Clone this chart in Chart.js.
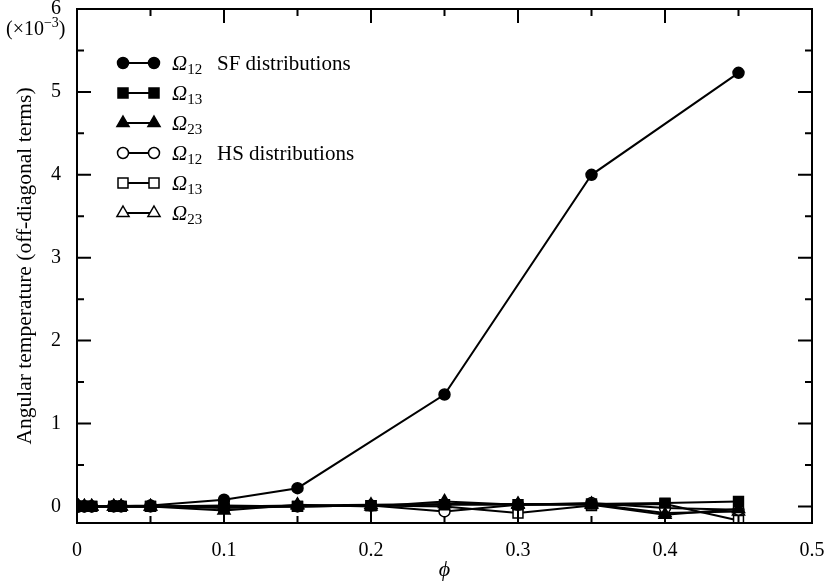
<!DOCTYPE html>
<html>
<head>
<meta charset="utf-8">
<script src="https://cdn.jsdelivr.net/npm/chart.js@4/dist/chart.umd.min.js"></script>
<style>
html, body { margin: 0; padding: 0; background: #fff; }
</style>
</head>
<body>
<canvas id="omegaChart" width="828" height="583"></canvas>
<script>
// volume fraction values (x axis)
const phi = [0.001, 0.005, 0.01, 0.025, 0.03, 0.05, 0.1, 0.15, 0.2, 0.25, 0.3, 0.35, 0.4, 0.45];

// off-diagonal angular temperature, units of 1e-3 (null = no point)
const sfOmega12 = [0, 0, 0, 0.005, 0.005, 0.01, 0.08, 0.22, null, 1.35, null, 4.0, null, 5.23];
const sfOmega13 = [0, 0, 0, 0, 0, 0, -0.02, 0.0, 0.01, 0.02, 0.02, 0.03, 0.04, 0.06];
const sfOmega23 = [0, 0, 0, 0, 0, 0, -0.05, 0.02, 0.0, 0.06, 0.02, 0.02, -0.1, -0.03];
const hsOmega12 = [0, 0, 0, 0, 0, 0, 0.0, 0.0, 0.01, -0.06, 0.02, 0.04, -0.02, -0.04];
const hsOmega13 = [0, 0, 0, 0, 0, 0, 0.01, 0.0, 0.01, 0.0, -0.08, 0.01, 0.03, -0.17];
const hsOmega23 = [0, 0, 0, 0, 0, 0, 0.0, 0.01, 0.02, 0.03, 0.03, 0.03, -0.08, -0.06];

const xTicks = [0, 0.1, 0.2, 0.3, 0.4, 0.5];
const yTicks = [0, 1, 2, 3, 4, 5, 6];

const legendSubs = ['12', '13', '23', '12', '13', '23'];
const legendNotes = ['SF distributions', '', '', 'HS distributions', '', ''];

const serif = "'Liberation Serif', 'DejaVu Serif', serif";

function toPoints(values) {
    const pts = [];
    values.forEach(function (v, i) {
        if (v !== null) pts.push({ x: phi[i], y: v });
    });
    return pts;
}

function makeSet(values, style, filled, radius) {
    return {
        data: toPoints(values),
        borderColor: '#000',
        borderWidth: 2,
        pointStyle: style,
        pointRadius: radius,
        pointBorderWidth: 1.5,
        pointBorderColor: '#000',
        pointBackgroundColor: filled ? '#000' : '#fff',
        fill: false,
        tension: 0
    };
}

function drawMarker(ctx, style, x, y, filled) {
    ctx.beginPath();
    if (style === 'circle') {
        ctx.arc(x, y, 5.5, 0, Math.PI * 2);
    } else if (style === 'rect') {
        ctx.rect(x - 5, y - 5, 10, 10);
    } else {
        const r = 7;
        ctx.moveTo(x, y - r);
        ctx.lineTo(x + r * 0.866, y + r * 0.5);
        ctx.lineTo(x - r * 0.866, y + r * 0.5);
        ctx.closePath();
    }
    ctx.fillStyle = filled ? '#000' : '#fff';
    ctx.fill();
    ctx.lineWidth = 1.5;
    ctx.stroke();
}

// frame, inward ticks, legend and the exponent note
const framePlugin = {
    id: 'framePlugin',
    afterDraw(chart) {
        const ctx = chart.ctx;
        const a = chart.chartArea;
        const xs = chart.scales.x;
        const ys = chart.scales.y;
        ctx.save();
        ctx.strokeStyle = '#000';
        ctx.lineWidth = 2;
        ctx.strokeRect(a.left, a.top, a.right - a.left, a.bottom - a.top);

        for (let i = 1; i < 10; i++) {
            const px = xs.getPixelForValue(i * 0.05);
            const len = i % 2 === 0 ? 14 : 7;
            ctx.beginPath();
            ctx.moveTo(px, a.bottom);
            ctx.lineTo(px, a.bottom - len);
            ctx.moveTo(px, a.top);
            ctx.lineTo(px, a.top + len);
            ctx.stroke();
        }
        for (let i = 0; i < 12; i++) {
            const py = ys.getPixelForValue(i * 0.5);
            const len = i % 2 === 0 ? 14 : 7;
            ctx.beginPath();
            ctx.moveTo(a.left, py);
            ctx.lineTo(a.left + len, py);
            ctx.moveTo(a.right, py);
            ctx.lineTo(a.right - len, py);
            ctx.stroke();
        }

        // legend
        chart.data.datasets.forEach(function (ds, i) {
            const y = 63 + i * 30;
            const filled = ds.pointBackgroundColor === '#000';
            ctx.lineWidth = 2;
            ctx.beginPath();
            ctx.moveTo(123, y);
            ctx.lineTo(154, y);
            ctx.stroke();
            drawMarker(ctx, ds.pointStyle, 123, y, filled);
            drawMarker(ctx, ds.pointStyle, 154, y, filled);
            ctx.fillStyle = '#000';
            ctx.textBaseline = 'alphabetic';
            ctx.font = 'italic 21px ' + serif;
            ctx.fillText('\u03A9', 172, y + 7);
            const w = ctx.measureText('\u03A9').width;
            ctx.font = '15px ' + serif;
            ctx.fillText(legendSubs[i], 172 + w, y + 11);
            if (legendNotes[i]) {
                ctx.font = '21px ' + serif;
                ctx.fillText(legendNotes[i], 217, y + 7);
            }
        });

        // (x10^-3)
        ctx.fillStyle = '#000';
        ctx.font = '20px ' + serif;
        let tx = 6;
        ctx.fillText('(\u00D710', tx, 35);
        tx += ctx.measureText('(\u00D710').width;
        ctx.font = '14px ' + serif;
        ctx.fillText('\u22123', tx, 27);
        tx += ctx.measureText('\u22123').width;
        ctx.font = '20px ' + serif;
        ctx.fillText(')', tx, 35);
        ctx.restore();
    }
};

const canvas = document.getElementById('omegaChart');
new Chart(canvas.getContext('2d'), {
    type: 'line',
    data: {
        datasets: [
            makeSet(sfOmega12, 'circle', true, 5.5),
            makeSet(sfOmega13, 'rect', true, 7),
            makeSet(sfOmega23, 'triangle', true, 7),
            makeSet(hsOmega12, 'circle', false, 5.5),
            makeSet(hsOmega13, 'rect', false, 7),
            makeSet(hsOmega23, 'triangle', false, 7)
        ]
    },
    options: {
        responsive: false,
        animation: false,
        layout: { padding: { top: 9, right: 16, left: 0, bottom: 0 } },
        plugins: {
            legend: { display: false },
            tooltip: { enabled: false }
        },
        scales: {
            x: {
                type: 'linear',
                min: 0,
                max: 0.5,
                grid: { display: false },
                border: { display: false },
                afterFit: function (scale) {
                    scale.height = 60;
                    scale.paddingLeft = 0;
                    scale.paddingRight = 0;
                },
                afterBuildTicks: function (scale) {
                    scale.ticks = xTicks.map(function (v) { return { value: v }; });
                },
                ticks: {
                    padding: 8,
                    color: '#000',
                    font: { family: serif, size: 20 },
                    maxRotation: 0,
                    callback: function (v) { return String(v); }
                },
                title: {
                    display: true,
                    text: '\u03D5',
                    color: '#000',
                    font: { family: serif, size: 22, style: 'italic' },
                    padding: { top: 0, bottom: 0 }
                }
            },
            y: {
                type: 'linear',
                min: -0.2,
                max: 6,
                grid: { display: false },
                border: { display: false },
                afterFit: function (scale) {
                    scale.width = 77;
                    scale.paddingTop = 0;
                    scale.paddingBottom = 0;
                },
                afterBuildTicks: function (scale) {
                    scale.ticks = yTicks.map(function (v) { return { value: v }; });
                },
                ticks: {
                    padding: 8,
                    color: '#000',
                    font: { family: serif, size: 20 },
                    callback: function (v) { return String(v); }
                },
                title: {
                    display: true,
                    text: 'Angular temperature (off-diagonal terms)',
                    color: '#000',
                    font: { family: serif, size: 21.5 },
                    padding: { top: 12, bottom: 0 }
                }
            }
        }
    },
    plugins: [framePlugin]
});
</script>
</body>
</html>
